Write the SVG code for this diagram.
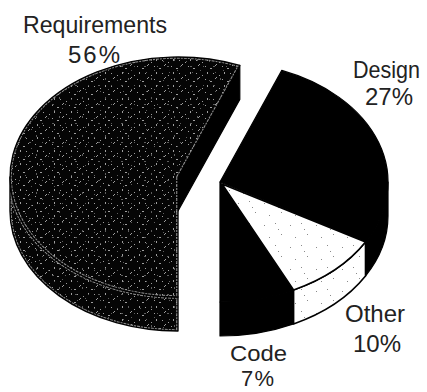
<svg xmlns="http://www.w3.org/2000/svg" width="427" height="392" viewBox="0 0 427 392">
  <style>
    .lbl { font-family: "Liberation Sans", Arial, sans-serif; font-size: 24px; fill: #222; }
    .sm { font-size: 22px; }
    .edge { fill: none; stroke: #000; stroke-width: 1.4; stroke-linejoin: round; }
    .rim { fill: none; stroke: #8c8c8c; stroke-width: 3.6; stroke-dasharray: 3 1 2 1; }
    .solid { fill: #000; stroke: #000; stroke-width: 1.2; stroke-linejoin: round; }
    .dotted { fill: url(#speck); stroke: #000; stroke-width: 1.6; stroke-linejoin: round; }
  </style>
  <defs>
    <!-- dark halftone grain for the large slice -->
    <pattern id="grainA" width="17" height="13" patternUnits="userSpaceOnUse">
      <rect width="17" height="13" fill="#050505"/>
      <path fill="#9e9e9e" d="M1 1h1v1h-1z M6 3h2v1h-2z M11 0h1v1h-1z M3 7h1v2h-1z M9 8h1v1h-1z M15 10h1v1h-1z M12 12h1v1h-1z"/>
    </pattern>
    <pattern id="grainB" width="23" height="19" patternUnits="userSpaceOnUse">
      <path fill="#5e5e5e" d="M2 4h1v1h-1z M8 15h1v1h-1z M13 2h1v2h-1z M19 9h1v1h-1z M6 9h2v1h-2z M16 13h1v1h-1z"/>
    </pattern>
    <!-- sparse grey dots on white -->
    <pattern id="speck" width="26" height="22" patternUnits="userSpaceOnUse">
      <rect width="26" height="22" fill="#fff"/>
      <path fill="#8a8a8a" d="M4 5h1v1h-1z M15 3h1v1h-1z M21 14h1v1h-1z M9 17h1v1h-1z M18 9h1v1h-1z"/>
    </pattern>
    <clipPath id="clipReqTop">
      <path d="M178,177 L178,297 A168,120 0 1 1 239.8,65.4 Z"/>
    </clipPath>
    <clipPath id="clipReqSide">
      <path d="M178,297 A168,120 0 0 1 10,177 L10,211 A168,120 0 0 0 178,331 Z"/>
    </clipPath>
  </defs>

  <!-- Requirements slice (pulled left) -->
  <g id="slice-requirements">
    <!-- cut face -->
    <path class="solid" d="M178,177 L239.8,65.4 L239.8,99.4 L178,211 Z"/>
    <!-- front side wall -->
    <path d="M178,297 A168,120 0 0 1 10,177 L10,211 A168,120 0 0 0 178,331 Z" fill="url(#grainA)"/>
    <path d="M178,297 A168,120 0 0 1 10,177 L10,211 A168,120 0 0 0 178,331 Z" fill="url(#grainB)"/>
    <path class="rim" clip-path="url(#clipReqSide)" d="M178,297 A168,120 0 0 1 10,177 L10,211 A168,120 0 0 0 178,331 Z"/>
    <path class="edge" d="M178,297 A168,120 0 0 1 10,177 L10,211 A168,120 0 0 0 178,331 Z"/>
    <!-- top face -->
    <path d="M178,177 L178,297 A168,120 0 1 1 239.8,65.4 Z" fill="url(#grainA)"/>
    <path d="M178,177 L178,297 A168,120 0 1 1 239.8,65.4 Z" fill="url(#grainB)"/>
    <path class="rim" clip-path="url(#clipReqTop)" d="M178,177 L178,297 A168,120 0 1 1 239.8,65.4 Z"/>
    <path class="edge" d="M178,177 L178,297 A168,120 0 1 1 239.8,65.4 Z"/>
    <text class="lbl" x="95" y="33" text-anchor="middle" textLength="144" lengthAdjust="spacingAndGlyphs">Requirements</text>
    <text class="lbl" x="94" y="63" text-anchor="middle" textLength="52" lengthAdjust="spacing">56%</text>
  </g>

  <!-- Design slice -->
  <g id="slice-design">
    <path class="solid" d="M388,182 A168,120 0 0 1 365.5,242 L365.5,276 A168,120 0 0 0 388,216 Z"/>
    <path class="solid" d="M220,182 L281.8,70.4 A168,120 0 0 1 365.5,242 Z"/>
    <text class="lbl" x="353" y="78" textLength="67" lengthAdjust="spacingAndGlyphs">Design</text>
    <text class="lbl" x="365" y="105">27%</text>
  </g>

  <!-- Code slice -->
  <g id="slice-code">
    <path class="solid" d="M293.6,289.9 A168,120 0 0 1 220,302 L220,336 A168,120 0 0 0 293.6,323.9 Z"/>
    <path class="solid" d="M220,182 L293.6,289.9 A168,120 0 0 1 220,302 Z"/>
    <text class="lbl sm" x="230" y="361" textLength="57" lengthAdjust="spacingAndGlyphs">Code</text>
    <text class="lbl sm" x="241" y="386" textLength="33" lengthAdjust="spacing">7%</text>
  </g>

  <!-- Other slice -->
  <g id="slice-other">
    <path class="dotted" d="M365.5,242 A168,120 0 0 1 293.6,289.9 L293.6,323.9 A168,120 0 0 0 365.5,276 Z"/>
    <path class="dotted" d="M222,184 L365.5,242 A168,120 0 0 1 293.6,289.9 Z"/>
    <text class="lbl" x="345" y="322">Other</text>
    <text class="lbl" x="353" y="352">10%</text>
  </g>
</svg>
